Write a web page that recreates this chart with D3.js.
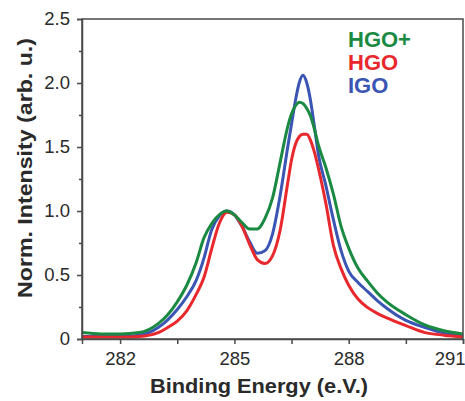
<!DOCTYPE html>
<html>
<head>
<meta charset="utf-8">
<script src="https://cdn.jsdelivr.net/npm/d3@7"></script>
<style>
  body { margin: 0; background: #fff; }
  svg { display: block; font-family: Arial, "Liberation Sans", Helvetica, sans-serif; }
</style>
</head>
<body>
<div id="chart"></div>
<script>
// binding energy grid (eV)
const energy = [281.0, 281.5, 282.0, 282.5, 283.0, 283.25, 283.5, 283.75, 284.0, 284.2, 284.4, 284.6,
  284.8, 285.0, 285.2, 285.4, 285.6, 285.8, 286.0, 286.2, 286.4, 286.5, 286.6, 286.7, 286.8, 286.9,
  287.0, 287.1, 287.2, 287.4, 287.6, 287.8, 288.0, 288.25, 288.5, 288.75, 289.0, 289.5, 290.0, 290.5, 291.0];

const hgoPlus = [0.05, 0.04, 0.04, 0.05, 0.12, 0.19, 0.29, 0.42, 0.60, 0.79, 0.90, 0.97,
  1.00, 0.97, 0.91, 0.86, 0.86, 0.94, 1.10, 1.38, 1.66, 1.76, 1.82, 1.85, 1.84, 1.80,
  1.74, 1.64, 1.52, 1.34, 1.13, 0.88, 0.71, 0.55, 0.45, 0.36, 0.29, 0.19, 0.11, 0.065, 0.04];

const hgo = [0.015, 0.015, 0.015, 0.02, 0.05, 0.09, 0.14, 0.22, 0.35, 0.48, 0.70, 0.90,
  0.99, 0.97, 0.88, 0.74, 0.62, 0.59, 0.65, 0.85, 1.22, 1.40, 1.52, 1.58, 1.60, 1.60,
  1.55, 1.46, 1.34, 1.06, 0.73, 0.55, 0.42, 0.31, 0.245, 0.20, 0.165, 0.105, 0.05, 0.03, 0.015];

const igo = [0.02, 0.02, 0.02, 0.03, 0.09, 0.15, 0.23, 0.33, 0.46, 0.63, 0.85, 0.96,
  1.00, 0.97, 0.88, 0.76, 0.67, 0.69, 0.82, 1.12, 1.50, 1.68, 1.86, 2.00, 2.06, 2.00,
  1.86, 1.66, 1.45, 1.20, 0.93, 0.69, 0.53, 0.44, 0.37, 0.30, 0.24, 0.145, 0.09, 0.045, 0.025];

const xTicks = [282, 285, 288, 291];
const xMinor = [283.5, 286.5, 289.5];
const yTicks = [0, 0.5, 1.0, 1.5, 2.0, 2.5];
const yMinor = [0.25, 0.75, 1.25, 1.75, 2.25];

const series = [
  { name: 'IGO', values: igo, color: '#3a55b3' },
  { name: 'HGO', values: hgo, color: '#e8282c' },
  { name: 'HGO+', values: hgoPlus, color: '#1a8a42' }
];
const legendOrder = ['HGO+', 'HGO', 'IGO'];

const W = 465, H = 401;
const margin = { top: 19, right: 2, bottom: 62, left: 82 };
const width = W - margin.left - margin.right;
const height = H - margin.top - margin.bottom;

const svg = d3.select('#chart').append('svg')
  .attr('width', W)
  .attr('height', H);

const g = svg.append('g')
  .attr('transform', `translate(${margin.left},${margin.top})`);

const x = d3.scaleLinear().domain([281, 291]).range([0, width]);
const y = d3.scaleLinear().domain([0, 2.5]).range([height, 0]);

const axisColor = '#4a4a4a';
const textColor = '#2a2a2a';

// curves
const line = d3.line()
  .x(d => x(d[0]))
  .y(d => y(d[1]))
  .curve(d3.curveMonotoneX);

series.forEach(s => {
  g.append('path')
    .datum(energy.map((e, i) => [e, s.values[i]]))
    .attr('fill', 'none')
    .attr('stroke', s.color)
    .attr('stroke-width', 3)
    .attr('stroke-linejoin', 'round')
    .attr('d', line);
});

// frame
g.append('rect')
  .attr('x', 0).attr('y', 0)
  .attr('width', width).attr('height', height)
  .attr('fill', 'none')
  .attr('stroke', axisColor)
  .attr('stroke-width', 1.5);

// axes
g.append('g')
  .attr('transform', `translate(0,${height})`)
  .call(d3.axisBottom(x).tickValues(xTicks).tickSize(5).tickPadding(8).tickFormat(d3.format('d')))
  .selectAll('.tick text')
  .filter(d => d === 291)
  .attr('text-anchor', 'end')
  .attr('dx', 2);
g.append('g')
  .attr('transform', `translate(0,${height})`)
  .call(d3.axisBottom(x).tickValues(xMinor).tickSize(5).tickFormat(''))
  .call(a => a.select('.domain').remove());

g.append('g')
  .call(d3.axisLeft(y).tickValues(yTicks).tickSize(5).tickPadding(7)
    .tickFormat(d => d === 0 ? '0' : d3.format('.1f')(d)));
g.append('g')
  .call(d3.axisLeft(y).tickValues(yMinor).tickSize(3).tickFormat(''))
  .call(a => a.select('.domain').remove());

g.selectAll('.domain').attr('stroke', axisColor).attr('stroke-width', 1.5);
g.selectAll('.tick line').attr('stroke', axisColor).attr('stroke-width', 1.5);
g.selectAll('.tick text')
  .attr('fill', textColor)
  .style('font-size', '18.5px');

// legend
legendOrder.forEach((name, i) => {
  const s = series.find(d => d.name === name);
  svg.append('text')
    .attr('x', 348)
    .attr('y', 47 + i * 23)
    .attr('fill', s.color)
    .style('font-size', '22px')
    .style('font-weight', 'bold')
    .text(name);
});

// axis titles
svg.append('text')
  .attr('x', 259)
  .attr('y', 393)
  .attr('text-anchor', 'middle')
  .attr('fill', textColor)
  .attr('textLength', 218)
  .attr('lengthAdjust', 'spacingAndGlyphs')
  .style('font-size', '21px')
  .style('font-weight', 'bold')
  .text('Binding Energy (e.V.)');

svg.append('text')
  .attr('transform', 'translate(32,168) rotate(-90)')
  .attr('text-anchor', 'middle')
  .attr('fill', textColor)
  .attr('textLength', 260)
  .attr('lengthAdjust', 'spacingAndGlyphs')
  .style('font-size', '21px')
  .style('font-weight', 'bold')
  .text('Norm. Intensity (arb. u.)');
</script>
</body>
</html>
